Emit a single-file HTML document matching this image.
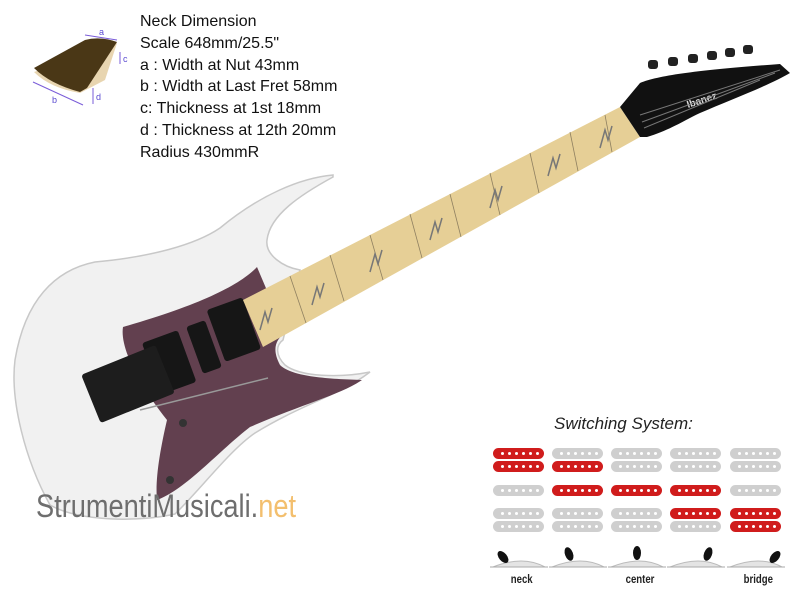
<!DOCTYPE html>
<html><head><meta charset="utf-8"><style>
body{margin:0;width:800px;height:600px;background:#fff;overflow:hidden;position:relative;font-family:"Liberation Sans",Arial,sans-serif}
.t{position:absolute;left:140px;top:11px;font-size:16px;line-height:21.8px;color:#111}
.pill{position:absolute;width:51px;height:11px;border-radius:6px;background:#cfcfcf}
.pill.r{background:#d01c1c}
.pill:after{content:"";position:absolute;left:8px;top:4px;width:3px;height:3px;border-radius:50%;background:#fff;box-shadow:7px 0 #fff,14px 0 #fff,21px 0 #fff,28px 0 #fff,35px 0 #fff}
.lbl{position:absolute;top:572px;font-size:12px;color:#222;transform:scaleX(.8);font-weight:bold}
</style></head><body>
<svg width="800" height="600" style="position:absolute;left:0;top:0">
<path d="M34,72 Q50,88 80,93 L105,80 L117,43 Z" fill="#e8d5b0"/>
<path d="M34,68 L85,40 Q100,36 117,42 L87,88 L80,92 Q50,84 34,68 Z" fill="#4a3716"/>
<g stroke="#7a5cd8" stroke-width="1" fill="none"><line x1="85" y1="35" x2="117" y2="40"/><line x1="33" y1="82" x2="83" y2="105"/><line x1="120" y1="52" x2="120" y2="64"/><line x1="93" y1="88" x2="93" y2="104"/></g>
<g fill="#5a4ad0" font-size="9"><text x="99" y="35">a</text><text x="52" y="103">b</text><text x="123" y="62">c</text><text x="96" y="100">d</text></g>
<path d="M333,175 C300,178 260,195 220,228 C195,245 150,257 95,262 C55,270 25,300 15,360 C10,400 25,460 50,505 C80,522 140,522 175,514 C200,490 230,450 255,433 C300,405 340,395 370,372 C340,378 300,377 285,365 C275,355 276,345 283,340 L300,270 C283,267 265,255 267,240 C270,215 300,195 333,177 Z" fill="#f1f1f1" stroke="#c8c8c8" stroke-width="1.5"/>
<path d="M257,267 C240,285 200,305 123,327 C120,345 135,380 167,420 C160,450 155,480 157,500 C185,490 220,450 250,427 C300,405 340,395 362,380 C330,379 292,377 280,365 C272,350 275,340 285,333 Z" fill="#62404f"/>
<rect x="150" y="335" width="38" height="55" rx="3" fill="#161616" transform="rotate(-20 169 362)"/>
<rect x="194" y="322" width="20" height="50" rx="3" fill="#161616" transform="rotate(-20 204 347)"/>
<rect x="215" y="302" width="38" height="55" rx="3" fill="#161616" transform="rotate(-20 234 330)"/>
<rect x="88" y="358" width="80" height="52" rx="3" fill="#1d1d1d" transform="rotate(-22 128 384)"/>
<line x1="140" y1="410" x2="268" y2="378" stroke="#999" stroke-width="1.5"/>
<g fill="#333"><circle cx="183" cy="423" r="4"/><circle cx="170" cy="480" r="4"/></g>
<path d="M243,300 L263,347 L640,137 L620,107 Z" fill="#e6cf96"/>
<g stroke="#8f8060" stroke-width="0.8">
<line x1="290" y1="276" x2="306" y2="323"/><line x1="330" y1="255" x2="344" y2="301"/><line x1="370" y1="235" x2="383" y2="280"/><line x1="410" y1="214" x2="422" y2="258"/><line x1="450" y1="194" x2="461" y2="237"/><line x1="490" y1="173" x2="500" y2="215"/><line x1="530" y1="153" x2="539" y2="193"/><line x1="570" y1="132" x2="578" y2="171"/><line x1="605" y1="115" x2="612" y2="152"/></g>
<g stroke="#777" stroke-width="1.5" fill="none"><path d="M260,330 l5,-18 l3,10 l4,-14"/><path d="M312,305 l5,-18 l3,10 l4,-14"/><path d="M370,272 l5,-18 l3,10 l4,-14"/><path d="M430,240 l5,-18 l3,10 l4,-14"/><path d="M490,208 l5,-18 l3,10 l4,-14"/><path d="M548,176 l5,-18 l3,10 l4,-14"/><path d="M600,148 l5,-18 l3,10 l4,-14"/></g>
<path d="M620,107 L640,83 C660,75 700,70 780,64 L790,73 C770,85 730,100 700,113 C685,120 670,130 647,137 L640,137 Z" fill="#111"/>
<text x="688" y="108" fill="#ddd" font-size="10" font-weight="bold" transform="rotate(-18 688 108)">Ibanez</text>
<g stroke="#777" stroke-width="1"><line x1="640" y1="115" x2="780" y2="70"/><line x1="642" y1="122" x2="775" y2="73"/><line x1="644" y1="128" x2="760" y2="80"/></g>
<g fill="#222"><rect x="648" y="60" width="10" height="9" rx="3"/><rect x="668" y="57" width="10" height="9" rx="3"/><rect x="688" y="54" width="10" height="9" rx="3"/><rect x="707" y="51" width="10" height="9" rx="3"/><rect x="725" y="48" width="10" height="9" rx="3"/><rect x="743" y="45" width="10" height="9" rx="3"/></g>
<g fill="#e4e4e4" stroke="#bbb"><path d="M493,567 q30,-12 52,0 z"/><path d="M552,567 q30,-12 52,0 z"/><path d="M611,567 q30,-12 52,0 z"/><path d="M670,567 q30,-12 52,0 z"/><path d="M730,567 q30,-12 52,0 z"/></g>
<g stroke="#aaa" stroke-width="1"><line x1="490" y1="567" x2="548" y2="567"/><line x1="549" y1="567" x2="607" y2="567"/><line x1="608" y1="567" x2="666" y2="567"/><line x1="667" y1="567" x2="725" y2="567"/><line x1="727" y1="567" x2="785" y2="567"/></g>
<g fill="#111"><ellipse cx="503" cy="557" rx="4" ry="7" transform="rotate(-40 503 557)"/><ellipse cx="569" cy="554" rx="4" ry="7" transform="rotate(-20 569 554)"/><ellipse cx="637" cy="553" rx="4" ry="7"/><ellipse cx="708" cy="554" rx="4" ry="7" transform="rotate(20 708 554)"/><ellipse cx="775" cy="557" rx="4" ry="7" transform="rotate(40 775 557)"/></g>
</svg>
<div class="t">Neck Dimension<br>Scale 648mm/25.5"<br>a : Width at Nut 43mm<br>b : Width at Last Fret 58mm<br>c: Thickness at 1st 18mm<br>d : Thickness at 12th 20mm<br>Radius 430mmR</div>
<div style="position:absolute;left:36px;top:488px;font-size:32px;color:#6e6e6e;transform:scaleX(.85);transform-origin:left;white-space:nowrap">StrumentiMusicali.<span style="color:#f3bf6e">net</span></div>
<div style="position:absolute;left:554px;top:414px;font-size:17px;font-style:italic;color:#222">Switching System:</div>
<div class="pill r" style="left:493px;top:448px"></div><div class="pill r" style="left:493px;top:461px"></div>
<div class="pill" style="left:552px;top:448px"></div><div class="pill r" style="left:552px;top:461px"></div>
<div class="pill" style="left:611px;top:448px"></div><div class="pill" style="left:611px;top:461px"></div>
<div class="pill" style="left:670px;top:448px"></div><div class="pill" style="left:670px;top:461px"></div>
<div class="pill" style="left:730px;top:448px"></div><div class="pill" style="left:730px;top:461px"></div>
<div class="pill" style="left:493px;top:485px"></div><div class="pill r" style="left:552px;top:485px"></div><div class="pill r" style="left:611px;top:485px"></div><div class="pill r" style="left:670px;top:485px"></div><div class="pill" style="left:730px;top:485px"></div>
<div class="pill" style="left:493px;top:508px"></div><div class="pill" style="left:493px;top:521px"></div>
<div class="pill" style="left:552px;top:508px"></div><div class="pill" style="left:552px;top:521px"></div>
<div class="pill" style="left:611px;top:508px"></div><div class="pill" style="left:611px;top:521px"></div>
<div class="pill r" style="left:670px;top:508px"></div><div class="pill" style="left:670px;top:521px"></div>
<div class="pill r" style="left:730px;top:508px"></div><div class="pill r" style="left:730px;top:521px"></div>
<div class="lbl" style="left:508px">neck</div>
<div class="lbl" style="left:622px">center</div>
<div class="lbl" style="left:740px">bridge</div>
</body></html>
